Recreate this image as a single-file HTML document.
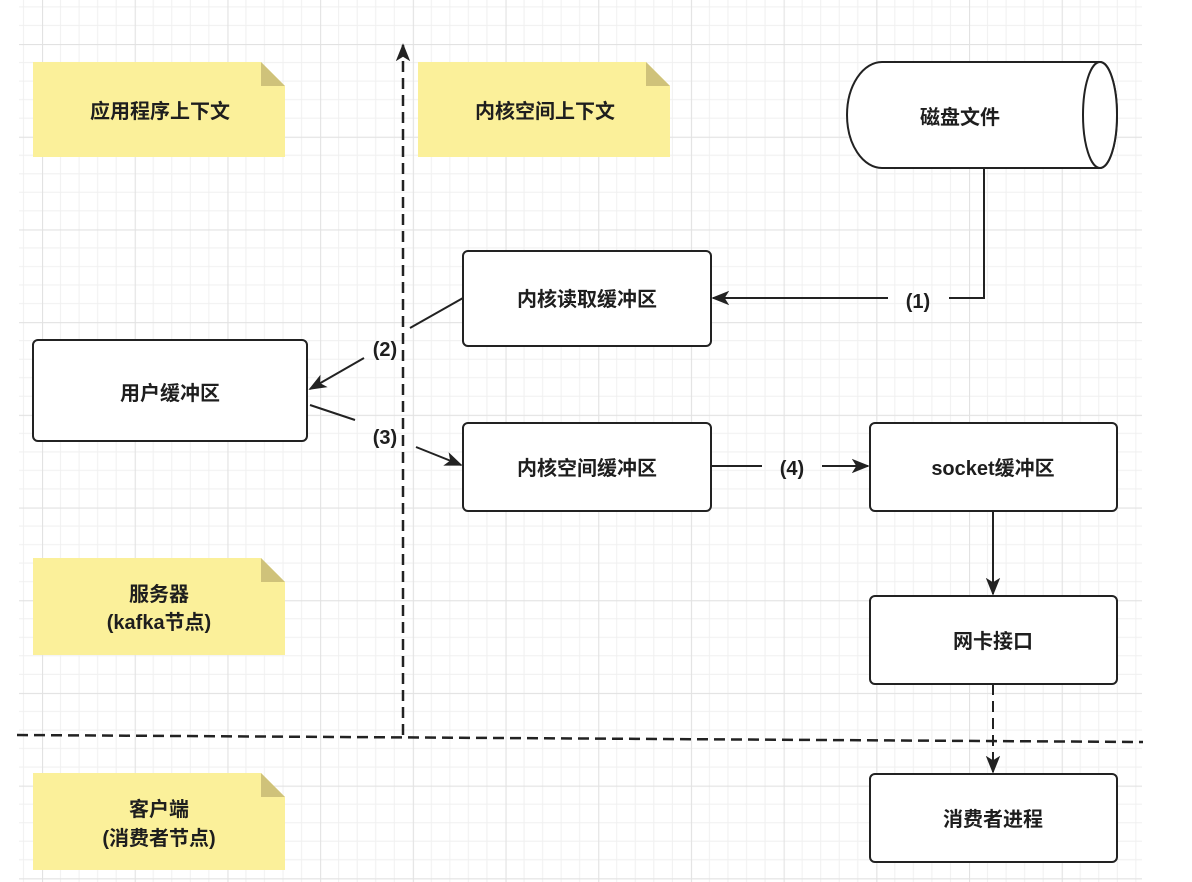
<!DOCTYPE html>
<html><head><meta charset="utf-8"><style>
html,body{margin:0;padding:0;background:#fff;width:1192px;height:882px;overflow:hidden}
text{font-family:"Liberation Sans","Noto Sans CJK SC",sans-serif;font-weight:bold;fill:#1e1e1e}
</style></head><body>
<svg width="1192" height="882" viewBox="0 0 1192 882" xmlns="http://www.w3.org/2000/svg">
<defs>
<pattern id="g" x="42" y="44" width="92.7" height="92.7" patternUnits="userSpaceOnUse">
<path d="M18.54 0V92.7M37.08 0V92.7M55.62 0V92.7M74.16 0V92.7M0 18.54H92.7M0 37.08H92.7M0 55.62H92.7M0 74.16H92.7" stroke="#f0f0f0" stroke-width="1" fill="none"/>
<path d="M0.5 0V92.7M0 0.5H92.7" stroke="#e2e2e2" stroke-width="1.2" fill="none"/>
</pattern>
<marker id="b" viewBox="0 0 10 10" refX="9" refY="5" markerWidth="18" markerHeight="18" orient="auto" markerUnits="userSpaceOnUse">
<path d="M0 1L10 5L0 9L2.5 5Z" fill="#222"/></marker>
</defs>
<rect x="19" y="0" width="1123" height="882" fill="url(#g)"/>

<g fill="#fbf09a">
<path d="M33 62H261L285 86V157H33Z"/>
<path d="M418 62H646L670 86V157H418Z"/>
<path d="M33 558H261L285 582V655H33Z"/>
<path d="M33 773H261L285 797V870H33Z"/>
</g>
<g fill="#cfc27a">
<path d="M261 62L285 86H261Z"/><path d="M646 62L670 86H646Z"/>
<path d="M261 558L285 582H261Z"/><path d="M261 773L285 797H261Z"/>
</g>
<g font-size="20" text-anchor="middle">
<text x="160" y="118">应用程序上下文</text>
<text x="545" y="118">内核空间上下文</text>
<text x="159" y="601">服务器</text>
<text x="159" y="629">(kafka节点)</text>
<text x="159" y="816">客户端</text>
<text x="159" y="845">(消费者节点)</text>
</g>

<line x1="403" y1="735" x2="403" y2="45" stroke="#222" stroke-width="2.5" stroke-dasharray="11 6" marker-end="url(#b)"/>
<line x1="17" y1="735" x2="1143" y2="742" stroke="#222" stroke-width="2.5" stroke-dasharray="11 6"/>

<path d="M882 62H1100A17 53 0 0 1 1100 168H882A35 53 0 0 1 882 62Z" fill="#fff" stroke="#222" stroke-width="2"/>
<ellipse cx="1100" cy="115" rx="17" ry="53" fill="#fff" stroke="#222" stroke-width="2"/>

<g fill="#fff" stroke="#222" stroke-width="2">
<rect x="463" y="251" width="248" height="95" rx="5"/>
<rect x="33" y="340" width="274" height="101" rx="5"/>
<rect x="463" y="423" width="248" height="88" rx="5"/>
<rect x="870" y="423" width="247" height="88" rx="5"/>
<rect x="870" y="596" width="247" height="88" rx="5"/>
<rect x="870" y="774" width="247" height="88" rx="5"/>
</g>
<g font-size="20" text-anchor="middle">
<text x="960" y="124">磁盘文件</text>
<text x="587" y="306">内核读取缓冲区</text>
<text x="170" y="400">用户缓冲区</text>
<text x="587" y="475">内核空间缓冲区</text>
<text x="993" y="475">socket缓冲区</text>
<text x="993" y="648">网卡接口</text>
<text x="993" y="826">消费者进程</text>
</g>

<g stroke="#222" stroke-width="2" fill="none">
<path d="M984 168V298H949"/>
<line x1="888" y1="298" x2="713" y2="298" marker-end="url(#b)"/>
<line x1="463" y1="298" x2="410" y2="328"/>
<line x1="364" y1="358" x2="310" y2="389" marker-end="url(#b)"/>
<line x1="310" y1="405" x2="355" y2="420"/>
<line x1="416" y1="447" x2="461" y2="465" marker-end="url(#b)"/>
<line x1="711" y1="466" x2="762" y2="466"/>
<line x1="822" y1="466" x2="868" y2="466" marker-end="url(#b)"/>
<line x1="993" y1="511" x2="993" y2="594" marker-end="url(#b)"/>
<line x1="993" y1="684" x2="993" y2="772" stroke-dasharray="11 6" marker-end="url(#b)"/>
</g>
<g font-size="20" text-anchor="middle">
<text x="918" y="308">(1)</text>
<text x="385" y="356">(2)</text>
<text x="385" y="444">(3)</text>
<text x="792" y="475">(4)</text>
</g>
</svg>
</body></html>
